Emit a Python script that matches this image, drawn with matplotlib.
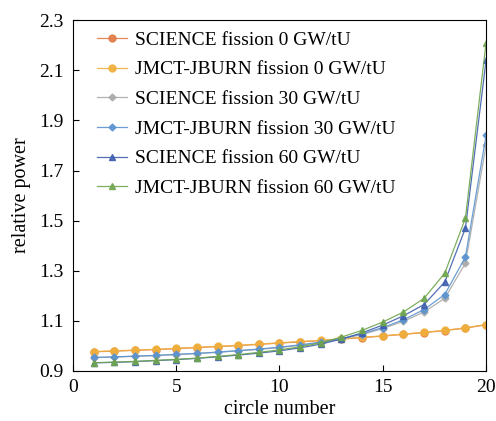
import numpy as np
import matplotlib.pyplot as plt

plt.rcParams['font.family'] = ['Liberation Serif', 'DejaVu Serif']
plt.rcParams['mathtext.fontset'] = 'stix'

# circle number
circle = list(range(1, 21))

sci_0 = [0.976, 0.979, 0.982, 0.985, 0.989, 0.993, 0.997, 1.001, 1.006, 1.011,
         1.016, 1.021, 1.027, 1.033, 1.039, 1.046, 1.053, 1.061, 1.071, 1.084]
jm_0 = [0.977, 0.980, 0.983, 0.986, 0.990, 0.994, 0.998, 1.002, 1.007, 1.012,
        1.017, 1.022, 1.028, 1.034, 1.040, 1.047, 1.054, 1.062, 1.072, 1.085]
sci_30 = [0.953, 0.955, 0.958, 0.961, 0.965, 0.969, 0.974, 0.980, 0.986, 0.993,
          1.002, 1.013, 1.027, 1.045, 1.069, 1.098, 1.135, 1.190, 1.330, 1.800]
jm_30 = [0.954, 0.956, 0.959, 0.962, 0.966, 0.970, 0.975, 0.981, 0.987, 0.995,
         1.004, 1.015, 1.029, 1.048, 1.073, 1.104, 1.145, 1.205, 1.355, 1.840]
sci_60 = [0.932, 0.934, 0.937, 0.941, 0.945, 0.950, 0.956, 0.963, 0.971, 0.980,
          0.992, 1.007, 1.027, 1.052, 1.083, 1.120, 1.165, 1.255, 1.470, 2.140]
jm_60 = [0.933, 0.935, 0.938, 0.942, 0.946, 0.951, 0.958, 0.965, 0.974, 0.984,
         0.996, 1.012, 1.035, 1.062, 1.095, 1.135, 1.190, 1.290, 1.510, 2.210]

series = [
    ('SCIENCE fission 0 GW/tU', sci_0, '#E07B45', 'o', 5),
    ('JMCT-JBURN fission 0 GW/tU', jm_0, '#F0B03C', 'o', 5),
    ('SCIENCE fission 30 GW/tU', sci_30, '#AAAAAA', 'D', 3.5),
    ('JMCT-JBURN fission 30 GW/tU', jm_30, '#5B93CF', 'D', 3.5),
    ('SCIENCE fission 60 GW/tU', sci_60, '#3F5FAE', '^', 5),
    ('JMCT-JBURN fission 60 GW/tU', jm_60, '#6FA64E', '^', 5),
]

fig = plt.figure(figsize=(4.96, 4.21), dpi=100)
ax = fig.add_axes([0.147, 0.119, 0.833, 0.833])

for label, vals, color, marker, ms in series:
    ax.plot(circle, vals, color=color, marker=marker, markersize=ms,
            linewidth=0.9, label=label, alpha=0.9)

ax.set_xlim(0, 20)
ax.set_ylim(0.9, 2.3)
ax.set_xticks([0, 5, 10, 15, 20])
yt = np.arange(0.9, 2.31, 0.2)
ax.set_yticks(yt)
ax.set_yticklabels([f'{v:.1f}' for v in yt])
ax.tick_params(direction='in', labelsize=14, length=4, width=0.8)
ax.tick_params(axis='y', pad=6.5)
ax.tick_params(axis='x', pad=6)
for sp in ax.spines.values():
    sp.set_linewidth(0.8)

ax.set_xlabel('circle number', fontsize=14.5, labelpad=3)
ax.set_ylabel('relative power', fontsize=14.5, labelpad=6)

ax.legend(loc='upper left', frameon=False, fontsize=14, handlelength=1.55,
          handletextpad=0.4, labelspacing=0.62, borderaxespad=0.2,
          bbox_to_anchor=(0.03, 1.002))

fig.savefig('out.png', dpi=100)
